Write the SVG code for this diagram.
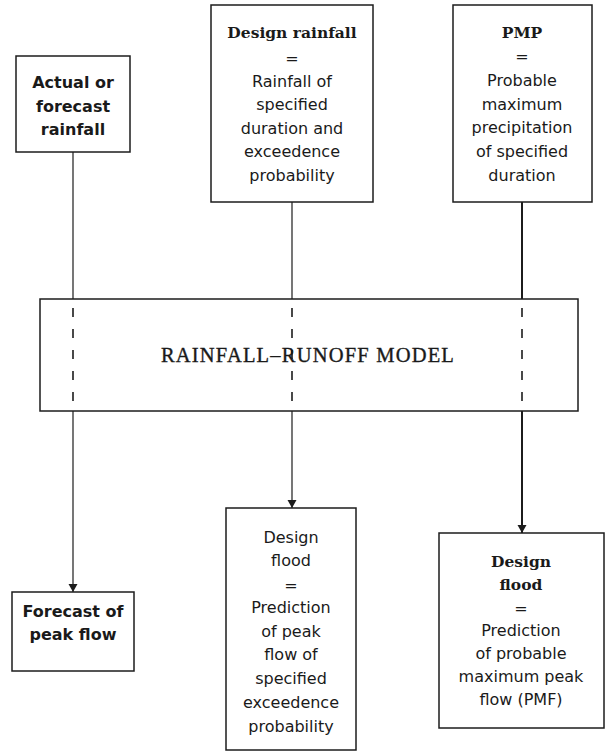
<svg xmlns="http://www.w3.org/2000/svg" width="606" height="754" viewBox="0 0 606 754">
  <style>
    .box { fill: #ffffff; stroke: #1c1c1c; stroke-width: 1.5; }
    .t { font-family: "DejaVu Sans", sans-serif; font-size: 16px; fill: #1a1a1a; text-anchor: middle; }
    .tb { font-family: "DejaVu Sans", sans-serif; font-size: 16px; font-weight: bold; fill: #1a1a1a; text-anchor: middle; }
    .ts { font-family: "DejaVu Serif", serif; font-size: 15.5px; font-weight: bold; fill: #1a1a1a; text-anchor: middle; }
    .model { font-family: "Liberation Serif", serif; font-size: 20.5px; letter-spacing: 1.2px; fill: #1a1a1a; stroke: #1a1a1a; stroke-width: 0.35; text-anchor: middle; }
    .line { stroke: #1c1c1c; stroke-width: 1.2; fill: none; }
    .thick { stroke-width: 2; }
    .dash { stroke-dasharray: 9 12; stroke-width: 1.6; }
  </style>
  <defs>
    <marker id="arrow" viewBox="0 0 8 11" refX="8" refY="5.5" markerWidth="8" markerHeight="11" markerUnits="userSpaceOnUse" orient="auto">
      <path d="M0,1 L8,5.5 L0,10 Z" fill="#1c1c1c"/>
    </marker>
  </defs>
  <rect width="606" height="754" fill="#ffffff"/>

  <!-- connectors -->
  <g id="connectors">
    <!-- actual / forecast rainfall path -->
    <line class="line" x1="73" y1="152" x2="73" y2="299"/>
    <line class="line dash" x1="73" y1="308" x2="73" y2="411"/>
    <line class="line" x1="73" y1="411" x2="73" y2="592" marker-end="url(#arrow)"/>
    <!-- design rainfall path -->
    <line class="line" x1="292" y1="202" x2="292" y2="299"/>
    <line class="line dash" x1="292" y1="308" x2="292" y2="411"/>
    <line class="line" x1="292" y1="411" x2="292" y2="508" marker-end="url(#arrow)"/>
    <!-- PMP path -->
    <line class="line thick" x1="522" y1="202" x2="522" y2="299"/>
    <line class="line dash" x1="522" y1="308" x2="522" y2="411"/>
    <line class="line thick" x1="522" y1="411" x2="522" y2="533" marker-end="url(#arrow)"/>
  </g>

  <g id="actual-rainfall">
    <rect class="box" x="16" y="56" width="114" height="96"/>
    <text class="tb" x="73" y="88">Actual or</text>
    <text class="tb" x="73" y="112">forecast</text>
    <text class="tb" x="73" y="135">rainfall</text>
  </g>

  <g id="design-rainfall">
    <rect class="box" x="211" y="5" width="162" height="197"/>
    <text class="ts" x="292" y="38">Design rainfall</text>
    <text class="t" x="292" y="64">=</text>
    <text class="t" x="292" y="87">Rainfall of</text>
    <text class="t" x="292" y="110">specified</text>
    <text class="t" x="292" y="134">duration and</text>
    <text class="t" x="292" y="157">exceedence</text>
    <text class="t" x="292" y="181">probability</text>
  </g>

  <g id="pmp">
    <rect class="box" x="453" y="5" width="139" height="197"/>
    <text class="ts" x="522" y="38">PMP</text>
    <text class="t" x="522" y="62">=</text>
    <text class="t" x="522" y="86">Probable</text>
    <text class="t" x="522" y="110">maximum</text>
    <text class="t" x="522" y="133">precipitation</text>
    <text class="t" x="522" y="157">of specified</text>
    <text class="t" x="522" y="181">duration</text>
  </g>

  <g id="model">
    <rect x="40" y="299" width="538" height="112" fill="none" stroke="#1c1c1c" stroke-width="1.5"/>
    <text class="model" x="308" y="362">RAINFALL–RUNOFF MODEL</text>
  </g>

  <g id="forecast-peak-flow">
    <rect class="box" x="12" y="592" width="122" height="79"/>
    <text class="tb" x="73" y="617">Forecast of</text>
    <text class="tb" x="73" y="640">peak flow</text>
  </g>

  <g id="design-flood">
    <rect class="box" x="226" y="508" width="130" height="242"/>
    <text class="t" x="291" y="543">Design</text>
    <text class="t" x="291" y="566">flood</text>
    <text class="t" x="291" y="591">=</text>
    <text class="t" x="291" y="613">Prediction</text>
    <text class="t" x="291" y="637">of peak</text>
    <text class="t" x="291" y="660">flow of</text>
    <text class="t" x="291" y="684">specified</text>
    <text class="t" x="291" y="708">exceedence</text>
    <text class="t" x="291" y="732">probability</text>
  </g>

  <g id="pmf-flood">
    <rect class="box" x="439" y="533" width="165" height="195"/>
    <text class="ts" x="521" y="567">Design</text>
    <text class="ts" x="521" y="590">flood</text>
    <text class="t" x="521" y="614">=</text>
    <text class="t" x="521" y="636">Prediction</text>
    <text class="t" x="521" y="659">of probable</text>
    <text class="t" x="521" y="682">maximum peak</text>
    <text class="t" x="521" y="705">flow (PMF)</text>
  </g>
</svg>
